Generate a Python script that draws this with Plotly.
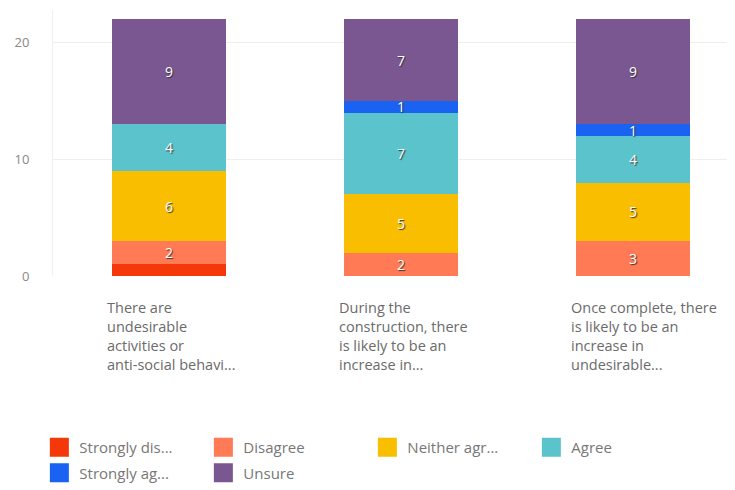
import plotly.graph_objects as go

# -----------------------------
# Data
# -----------------------------

questions = [
    "There are<br>undesirable<br>activities or<br>anti-social behavi...",
    "During the<br>construction, there<br>is likely to be an<br>increase in...",
    "Once complete, there<br>is likely to be an<br>increase in<br>undesirable...",
]

strongly_disagree = [1, 0, 0]
disagree = [2, 2, 3]
neither = [6, 5, 5]
agree = [4, 7, 4]
strongly_agree = [0, 1, 1]
unsure = [9, 7, 9]

series_names = ["Strongly dis...", "Disagree", "Neither agr...", "Agree",
                "Strongly ag...", "Unsure"]
series_values = [strongly_disagree, disagree, neither, agree,
                 strongly_agree, unsure]
series_colors = ["#F5380A", "#FF7A55", "#F9BE00", "#5BC3CC",
                 "#1A62F2", "#7A5790"]
show_labels = [False, True, True, True, True, True]
legend_rows = ["legend", "legend", "legend", "legend", "legend2", "legend2"]

x = [0, 1, 2]

fig = go.Figure()

for name, vals, color, lab, leg in zip(series_names, series_values, series_colors,
                                       show_labels, legend_rows):
    fig.add_trace(go.Bar(
        x=x,
        y=vals,
        name=name,
        marker=dict(color=color, line=dict(width=0)),
        width=0.49,
        text=[str(v) if (lab and v > 0) else "" for v in vals],
        textposition="inside",
        insidetextanchor="middle",
        textangle=0,
        constraintext="none",
        textfont=dict(color="white", size=14, family="Open Sans",
                      shadow="1px 1px 1px #333"),
        showlegend=False,
        hoverinfo="skip",
    ))
    # legend swatch
    fig.add_trace(go.Scatter(
        x=[None], y=[None],
        mode="markers",
        name=name,
        legend=leg,
        marker=dict(symbol="square", size=16, color=color,
                    line=dict(width=3, color=color)),
        showlegend=True,
    ))

# category labels, left aligned under each bar
for i, q in enumerate(questions):
    fig.add_annotation(
        x=i - 0.276, y=-0.074,
        xref="x", yref="paper",
        text=q,
        showarrow=False,
        xanchor="left", yanchor="top",
        align="left",
        font=dict(size=14.5, color="#6b6b6b", family="Open Sans"),
    )

legend_style = dict(
    orientation="h",
    x=-0.02,
    xanchor="left",
    entrywidth=119,
    entrywidthmode="pixels",
    font=dict(size=15, color="#777", family="Open Sans"),
    traceorder="normal",
    itemclick=False,
)

# page body has an 8px margin, so the figure is a bit smaller than the window
fig.update_layout(
    width=727,
    height=482,
    barmode="stack",
    plot_bgcolor="white",
    paper_bgcolor="white",
    margin=dict(l=45, r=0, t=2, b=214),
    font=dict(family="Open Sans", color="#777"),
    xaxis=dict(
        range=[-0.5, 2.44],
        showticklabels=False,
        showgrid=False,
        zeroline=False,
        showline=False,
        fixedrange=True,
    ),
    yaxis=dict(
        range=[0, 22.8],
        tickvals=[0, 10, 20],
        showgrid=True,
        gridcolor="#EEEEEE",
        zeroline=False,
        showline=True,
        linecolor="#F0F0F0",
        tickfont=dict(size=13, color="#888"),
        ticklabelstandoff=20,
    ),
    legend=dict(legend_style, y=-0.645, yanchor="middle"),
    legend2=dict(legend_style, y=-0.741, yanchor="middle"),
)

fig.write_html("out.html")
